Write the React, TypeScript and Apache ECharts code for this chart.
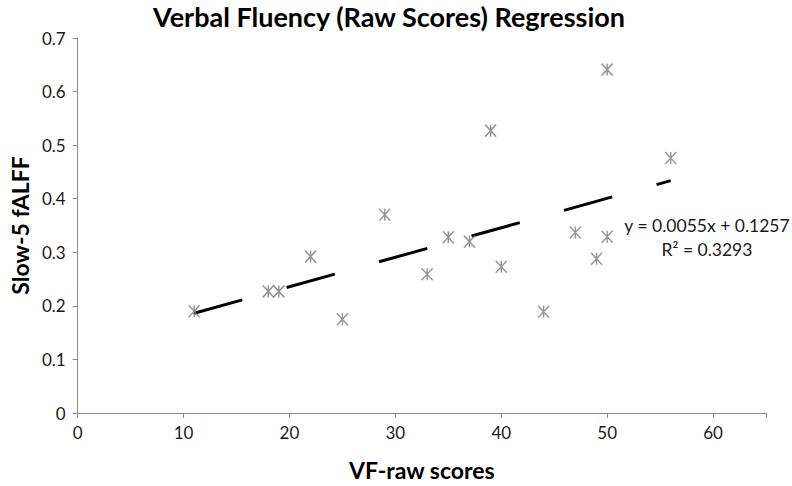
import React, { useEffect, useRef } from "react";
import * as echarts from "echarts";

const xValues = [11, 18, 19, 22, 25, 29, 33, 35, 37, 39, 40, 44, 47, 49, 50, 50, 56];
const yValues = [0.19, 0.227, 0.227, 0.292, 0.175, 0.37, 0.259, 0.328, 0.32, 0.527, 0.273, 0.189, 0.337, 0.288, 0.329, 0.641, 0.476];
const trendSlope = 0.0055;
const trendIntercept = 0.1257;
const trendRange = [11, 56];
const equationText = "y = 0.0055x + 0.1257";
const r2Text = "R² = 0.3293";
const titleText = "Verbal Fluency (Raw Scores) Regression";
const xName = "VF-raw scores";
const yName = "Slow-5 fALFF";

const FONT = "Lato, 'Open Sans', sans-serif";

export default function App() {
  const ref = useRef<HTMLDivElement>(null);
  useEffect(() => {
    if (!ref.current) return;
    const chart = echarts.init(ref.current, undefined, { renderer: "svg" });
    const points = xValues.map((x, i) => [x, yValues[i]]);
    const trend = trendRange.map((x) => [x, trendSlope * x + trendIntercept]);
    chart.setOption({
      animation: false,
      backgroundColor: "#ffffff",
      title: {
        text: titleText,
        left: 384,
        textAlign: "center",
        top: -2,
        textStyle: { fontFamily: FONT, fontWeight: "bold", fontSize: 27, color: "#000" },
      },
      grid: { left: 71, right: 26, top: 38, bottom: 67, containLabel: false },
      xAxis: {
        type: "value",
        min: 0,
        max: 65,
        interval: 10,
        name: xName,
        nameLocation: "middle",
        nameGap: 45,
        nameTextStyle: { fontFamily: FONT, fontWeight: "bold", fontSize: 23, color: "#000" },
        axisLine: { show: true, onZero: false, lineStyle: { color: "#8c8c8c", width: 1 } },
        axisTick: { show: true, inside: false, length: 5, lineStyle: { color: "#8c8c8c" } },
        axisLabel: {
          fontFamily: FONT,
          fontSize: 17,
          color: "#1a1a1a",
          margin: 11,
          formatter: (v: number) => (v > 60 ? "" : String(v)),
        },
        splitLine: { show: false },
      },
      yAxis: {
        type: "value",
        min: 0,
        max: 0.7,
        interval: 0.1,
        name: yName,
        nameLocation: "middle",
        nameGap: 42,
        nameTextStyle: { fontFamily: FONT, fontWeight: "bold", fontSize: 23, color: "#000" },
        axisLine: { show: true, lineStyle: { color: "#8c8c8c", width: 1 } },
        axisTick: { show: true, inside: false, length: 5, lineStyle: { color: "#8c8c8c" } },
        axisLabel: {
          fontFamily: FONT,
          fontSize: 17,
          color: "#1a1a1a",
          margin: 12,
          formatter: (v: number) => (Math.round(v * 10) / 10).toString(),
        },
        splitLine: { show: false },
      },
      series: [
        {
          type: "line",
          data: trend,
          symbol: "none",
          lineStyle: { color: "#000", width: 3, type: [50, 46] },
          z: 2,
        },
        {
          type: "scatter",
          data: points,
          symbol: "path://M0,0L10,12M10,0L0,12M5,0L5,12",
          symbolSize: [11, 12],
          itemStyle: { color: "#7a7a7a", borderColor: "#7a7a7a", borderWidth: 1.5 },
          z: 3,
        },
      ],
      graphic: [
        {
          type: "text",
          x: 707,
          y: 225,
          style: {
            text: equationText,
            fontFamily: FONT,
            fontSize: 17.5,
            fill: "#1a1a1a",
            textAlign: "center",
            textVerticalAlign: "middle",
          },
        },
        {
          type: "text",
          x: 707,
          y: 249,
          style: {
            text: r2Text,
            fontFamily: FONT,
            fontSize: 17.5,
            fill: "#1a1a1a",
            textAlign: "center",
            textVerticalAlign: "middle",
          },
        },
      ],
    });
    return () => chart.dispose();
  }, []);
  return (
    <div
      ref={ref}
      style={{ position: "fixed", left: 0, top: 0, width: 792, height: 486 }}
    />
  );
}
